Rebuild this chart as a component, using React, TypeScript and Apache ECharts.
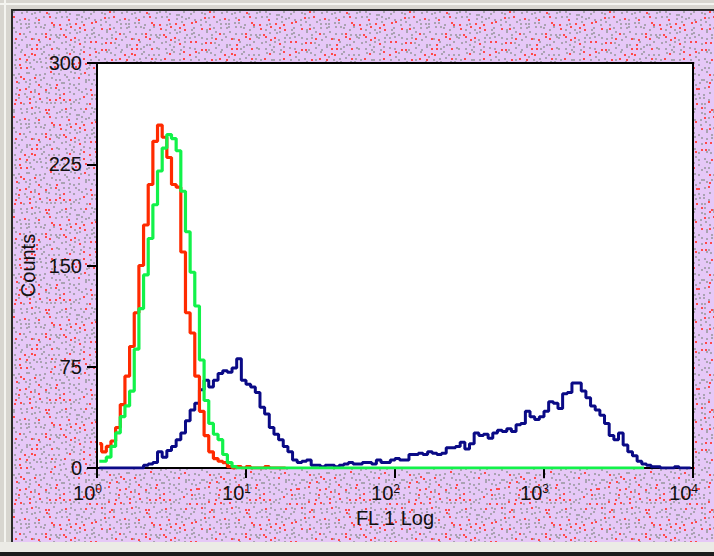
import React, { useEffect, useRef, useMemo } from 'react';
import * as echarts from 'echarts';

// histogram channels: 32 bins per decade over 4 decades (10^0 .. 10^4)
const binsPerDecade = 32;
const xTickExponents = ['0', '1', '2', '3', '4'];
const yTickValues = [0, 75, 150, 225, 300];

const redCounts = [
  18, 12, 16, 20, 30, 47, 68, 90, 115, 150,
  180, 210, 242, 254, 245, 230, 210, 208, 160, 115,
  100, 68, 42, 24, 12, 7, 5, 4, 1, 0,
  1, 0, 1, 0, 0, 0, 1, 0, 0, 0, 0,
];

const greenCounts = [
  5, 5, 8, 16, 26, 38, 46, 57, 88, 118,
  143, 170, 195, 220, 237, 247, 244, 235, 205, 175,
  145, 120, 80, 50, 33, 25, 21, 10, 4, 1,
  0, 0, 0, 0, 0, 0, 0, 0, 0, 0,
  0, 0, 0, 0, 0, 0, 0, 0, 0, 0,
  0, 0, 0, 0, 0, 0, 0, 0, 0, 0,
  0, 0, 0, 0, 0, 0, 0, 0, 0, 0,
  0, 0, 0, 0, 0, 0, 0, 0, 0, 0,
  0, 0, 0, 0, 0, 0, 0, 0, 0, 0,
  0, 0, 0, 0, 0, 0, 0, 0, 0, 0,
  0, 0, 0, 0, 0, 0, 0, 0, 0, 0,
  0, 0, 0, 0, 0, 0, 0, 0,
];

const blueCounts = [
  0, 0, 0, 0, 0, 0, 0, 0, 0, 0,
  2, 3, 4, 12, 8, 13, 16, 21, 26, 35,
  43, 48, 58, 65, 60, 65, 70, 72, 71, 74,
  81, 65, 62, 60, 56, 45, 40, 30, 25, 21,
  16, 12, 6, 4, 5, 6, 2, 2, 1, 2,
  2, 1, 2, 3, 4, 3, 3, 4, 4, 3,
  6, 4, 4, 6, 7, 6, 6, 10, 10, 11,
  10, 12, 11, 10, 11, 15, 15, 16, 19, 14,
  18, 26, 24, 25, 22, 26, 28, 27, 29, 27,
  32, 33, 42, 38, 36, 38, 42, 49, 48, 44,
  55, 56, 63, 63, 57, 52, 46, 43, 39, 33,
  24, 21, 26, 17, 12, 9, 5, 3, 2, 1,
  1, 0, 0, 0, 1, 0, 0, 0,
];

const toPoints = (counts: number[]) =>
  counts.map((c, i) => [Math.pow(10, (i + 0.5) / binsPerDecade), c]);

// decorative stippled backdrop (texture only, not data)
function makeDotPattern(): string {
  const size = 100;
  const cell = 5;
  const c = document.createElement('canvas');
  c.width = size;
  c.height = size;
  const ctx = c.getContext('2d');
  if (!ctx) return '';
  ctx.fillStyle = '#e6c8f7';
  ctx.fillRect(0, 0, size, size);
  let s = 20231;
  const rnd = () => {
    s = (s * 16807) % 2147483647;
    return s / 2147483647;
  };
  for (let gy = 0; gy < size; gy += cell) {
    for (let gx = 0; gx < size; gx += cell) {
      const x = gx + Math.floor(rnd() * (cell - 1));
      const y = gy + Math.floor(rnd() * (cell - 1));
      const red = rnd() < 0.28;
      ctx.fillStyle = red ? '#ff4a4a' : '#aaa3b2';
      ctx.fillRect(x, y, 2, 2);
    }
  }
  return c.toDataURL();
}

const FONT = 'Liberation Sans, Arial, sans-serif';

export default function App() {
  const ref = useRef<HTMLDivElement>(null);
  const pattern = useMemo(() => makeDotPattern(), []);

  useEffect(() => {
    if (!ref.current) return;
    const chart = echarts.init(ref.current, undefined, { renderer: 'svg' });
    chart.setOption({
      animation: false,
      backgroundColor: 'transparent',
      grid: {
        left: 97,
        right: 21,
        top: 63,
        bottom: 88,
        show: true,
        backgroundColor: '#ffffff',
        borderColor: '#000000',
        borderWidth: 2,
      },
      xAxis: {
        type: 'log',
        logBase: 10,
        min: 1,
        max: 10000,
        name: 'FL 1 Log',
        nameLocation: 'middle',
        nameGap: 37,
        nameTextStyle: { fontFamily: FONT, fontSize: 20, color: '#111' },
        axisLine: { onZero: false, lineStyle: { color: '#000', width: 2 } },
        axisTick: { show: true, length: 10, lineStyle: { color: '#000', width: 2 } },
        minorTick: { show: false },
        splitLine: { show: false },
        axisLabel: {
          margin: 15,
          showMinLabel: true,
          showMaxLabel: true,
          color: '#111',
          formatter: (v: number) => {
            const e = xTickExponents[Math.round(Math.log10(v))];
            return `{b|10}{s|${e}}{sp| }`;
          },
          rich: {
            b: { fontFamily: FONT, fontSize: 20, color: '#111', lineHeight: 20 },
            s: { fontFamily: FONT, fontSize: 12, color: '#111', verticalAlign: 'top', lineHeight: 20 },
            sp: { width: 19, fontSize: 12 },
          },
        },
      },
      yAxis: {
        type: 'value',
        min: yTickValues[0],
        max: yTickValues[yTickValues.length - 1],
        interval: yTickValues[1] - yTickValues[0],
        name: 'Counts',
        nameLocation: 'middle',
        nameGap: 56,
        nameTextStyle: { fontFamily: FONT, fontSize: 20, color: '#111' },
        axisLine: { show: true, lineStyle: { color: '#000', width: 2 } },
        axisTick: { show: true, length: 10, lineStyle: { color: '#000', width: 2 } },
        splitLine: { show: false },
        axisLabel: { margin: 15, fontFamily: FONT, fontSize: 20, color: '#111' },
      },
      series: [
        {
          name: 'blue',
          type: 'line',
          step: 'middle',
          symbol: 'none',
          data: toPoints(blueCounts),
          lineStyle: { color: '#0a0a86', width: 3 },
          z: 2,
        },
        {
          name: 'red',
          type: 'line',
          step: 'middle',
          symbol: 'none',
          data: toPoints(redCounts),
          lineStyle: { color: '#ff2a00', width: 3.2 },
          z: 3,
        },
        {
          name: 'green',
          type: 'line',
          step: 'middle',
          symbol: 'none',
          data: toPoints(greenCounts),
          lineStyle: { color: '#12f24a', width: 3.2 },
          z: 4,
        },
      ],
    });
    return () => chart.dispose();
  }, []);

  return (
    <div
      style={{
        position: 'fixed',
        left: 0,
        top: 0,
        width: 714,
        height: 556,
        background: '#d8d6d0',
        overflow: 'hidden',
      }}
    >
      <div style={{ position: 'absolute', left: 0, top: 3, width: 714, height: 2, background: '#f4f4f0' }} />
      <div style={{ position: 'absolute', left: 4, top: 0, width: 2, height: 556, background: '#f4f4f0' }} />
      <div style={{ position: 'absolute', left: 0, top: 542, width: 714, height: 10, background: '#ecebe6' }} />
      <div style={{ position: 'absolute', left: 0, top: 552, width: 714, height: 4, background: '#1c1c1c' }} />
      <div
        style={{
          position: 'absolute',
          left: 11,
          top: 9,
          width: 703,
          height: 533,
          boxSizing: 'border-box',
          borderTop: '2px solid #2a2a2a',
          borderLeft: '2px solid #2a2a2a',
          backgroundImage: `url(${pattern})`,
          backgroundRepeat: 'repeat',
        }}
      />
      <div ref={ref} style={{ position: 'absolute', left: 0, top: 0, width: 714, height: 556 }} />
    </div>
  );
}
